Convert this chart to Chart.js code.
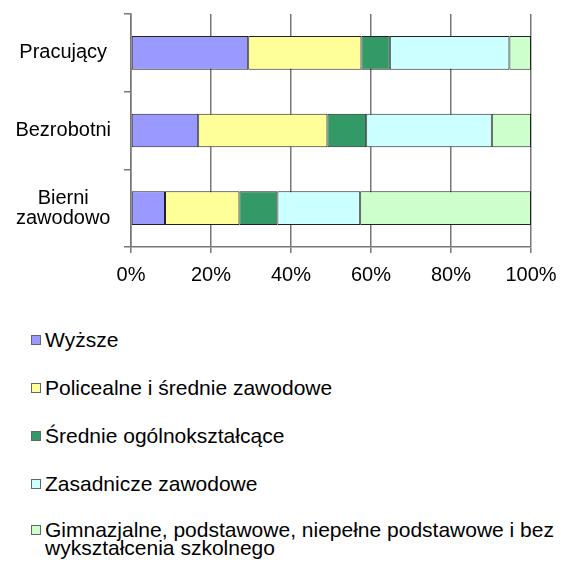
<!DOCTYPE html>
<html>
<head>
<meta charset="utf-8">
<script src="https://cdn.jsdelivr.net/npm/chart.js@4/dist/chart.umd.min.js"></script>
<style>
  html, body { margin: 0; padding: 0; background: #fff; }
  body { width: 561px; height: 562px; position: relative; overflow: hidden; font-family: "Liberation Sans", Arial, sans-serif; }
  #wrap { position: absolute; left: 0; top: 0; width: 561px; height: 300px; }
  .leg { position: absolute; left: 0; font-size: 21px; line-height: 18px; color: #000; white-space: nowrap; }
  .leg .box { position: absolute; left: 31px; width: 10px; height: 10px; box-sizing: border-box; border: 1px solid #666; }
  .leg .txt { position: absolute; left: 45px; top: 0; }
</style>
</head>
<body>
<div id="wrap"><canvas id="c" width="561" height="300"></canvas></div>
<div id="legend"></div>
<script>
// Categories (y axis)
const categories = ["Pracujący", "Bezrobotni", ["Bierni", "zawodowo"]];
// Series names
const seriesNames = [
  "Wyższe",
  "Policealne i średnie zawodowe",
  "Średnie ogólnokształcące",
  "Zasadnicze zawodowe",
  ["Gimnazjalne, podstawowe, niepełne podstawowe i bez", "wykształcenia szkolnego"]
];
// Series values (% share per category)
const wyzsze       = [29.3, 16.8, 8.5];
const policealne   = [28.3, 32.3, 18.6];
const srednieOgol  = [7.1, 9.7, 9.5];
const zasadnicze   = [29.9, 31.4, 20.7];
const gimnazjalne  = [5.4, 9.8, 42.7];
// Tick labels (x axis)
const xTicks = [0, 20, 40, 60, 80, 100];

const seriesValues = [wyzsze, policealne, srednieOgol, zasadnicze, gimnazjalne];
const colors = ["#9999FF", "#FFFF99", "#339966", "#CCFFFF", "#CCFFCC"];

const FONT = "'Liberation Sans', Arial, sans-serif";
const gridColor = "#777777";

new Chart(document.getElementById("c"), {
  type: "bar",
  data: {
    labels: categories,
    datasets: seriesValues.map((vals, i) => ({
      label: Array.isArray(seriesNames[i]) ? seriesNames[i].join(" ") : seriesNames[i],
      data: vals,
      backgroundColor: colors[i],
      borderColor: "#222",
      borderWidth: 1,
      borderSkipped: false,
      categoryPercentage: 1,
      barPercentage: 0.434
    }))
  },
  options: {
    indexAxis: "y",
    responsive: false,
    animation: false,
    layout: { padding: { top: 14, right: 30, bottom: 0, left: 0 } },
    plugins: { legend: { display: false }, tooltip: { enabled: false } },
    scales: {
      x: {
        stacked: true,
        min: 0,
        max: 100,
        afterBuildTicks: (s) => { s.ticks = xTicks.map(v => ({ value: v })); },
        afterFit: (s) => { s.paddingLeft = 0; s.paddingRight = 0; s.height = 53; },
        ticks: {
          callback: (v) => v + "%",
          color: "#000",
          font: { family: FONT, size: 20 },
          padding: 10,
          maxRotation: 0
        },
        grid: { color: gridColor, lineWidth: 1.5, tickLength: 6, tickColor: gridColor },
        border: { display: true, color: gridColor, width: 1.5 }
      },
      y: {
        stacked: true,
        afterFit: (s) => { s.width = 131; s.paddingTop = 0; s.paddingBottom = 0; },
        ticks: {
          color: "#000",
          font: { family: FONT, size: 20, lineHeight: 1.0 },
          crossAlign: "center",
          padding: 13
        },
        grid: { drawOnChartArea: false, offset: true, tickLength: 7, color: gridColor, lineWidth: 1.5 },
        border: { display: true, color: gridColor, width: 1.5 }
      }
    }
  }
});

// Legend (vertical list, as in the reference)
const legendCenters = [340, 388, 436, 484, 530];
const legend = document.getElementById("legend");
seriesNames.forEach((name, i) => {
  const d = document.createElement("div");
  d.className = "leg";
  d.style.top = (legendCenters[i] - 9) + "px";
  const box = document.createElement("span");
  box.className = "box";
  box.style.background = colors[i];
  box.style.top = "4px";
  const t = document.createElement("span");
  t.className = "txt";
  t.innerHTML = (Array.isArray(name) ? name : [name]).join("<br>");
  d.appendChild(box);
  d.appendChild(t);
  legend.appendChild(d);
});
</script>
</body>
</html>
